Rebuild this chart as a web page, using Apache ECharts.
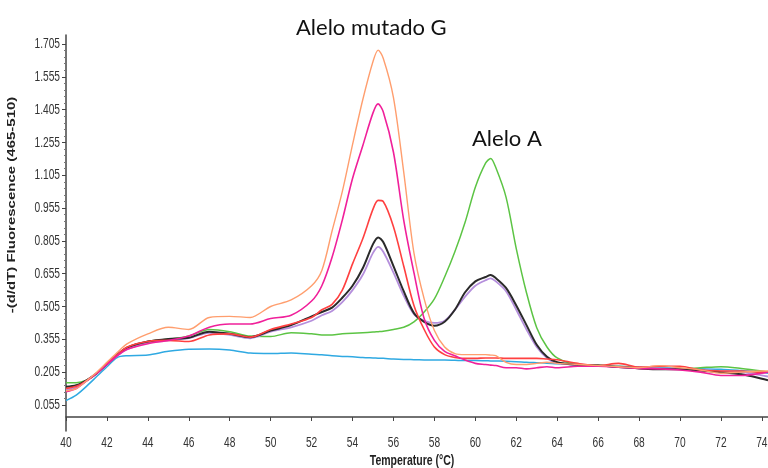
<!DOCTYPE html>
<html>
<head>
<meta charset="utf-8">
<script src="https://cdn.jsdelivr.net/npm/echarts@6/dist/echarts.min.js"></script>
<style>
html,body{margin:0;padding:0;background:#fff;}
#chart{width:768px;height:468px;}
</style>
</head>
<body>
<div id="chart"></div>
<script>
// Temperature (°C)
const temps = [40,40.5,41,41.5,42,42.5,43,44,45,46,47,48,49,50,51,52,52.5,53,53.5,54,54.5,55,55.25,55.5,56,56.5,57,57.5,58,58.5,59,59.5,60,60.5,60.75,61,61.5,62,62.5,63,63.5,64,65,66,67,68,69,70,71,72,73,74,74.3];

const orangeVals = [0.12,0.13,0.165,0.205,0.25,0.295,0.335,0.38,0.41,0.40,0.455,0.46,0.455,0.505,0.535,0.60,0.67,0.85,1.03,1.245,1.45,1.625,1.677,1.64,1.46,1.12,0.75,0.54,0.395,0.32,0.29,0.285,0.285,0.285,0.283,0.28,0.25,0.24,0.24,0.245,0.25,0.245,0.24,0.235,0.23,0.225,0.235,0.225,0.215,0.20,0.205,0.21,0.21];
const magentaVals = [0.115,0.13,0.165,0.20,0.24,0.28,0.31,0.335,0.35,0.37,0.41,0.425,0.425,0.45,0.465,0.53,0.60,0.73,0.90,1.09,1.24,1.39,1.431,1.395,1.21,0.90,0.66,0.45,0.35,0.30,0.28,0.26,0.245,0.24,0.237,0.235,0.225,0.225,0.22,0.225,0.23,0.225,0.232,0.232,0.228,0.222,0.22,0.215,0.205,0.19,0.19,0.20,0.205];
const redVals = [0.13,0.14,0.165,0.20,0.245,0.285,0.32,0.345,0.35,0.345,0.375,0.38,0.365,0.40,0.425,0.455,0.49,0.515,0.58,0.70,0.815,0.95,0.99,0.985,0.87,0.69,0.51,0.40,0.32,0.285,0.272,0.268,0.268,0.27,0.27,0.27,0.268,0.268,0.268,0.268,0.265,0.262,0.245,0.235,0.245,0.228,0.232,0.232,0.215,0.21,0.21,0.205,0.205];
const blackVals = [0.138,0.145,0.168,0.20,0.242,0.285,0.318,0.345,0.357,0.362,0.39,0.38,0.365,0.395,0.42,0.46,0.48,0.50,0.545,0.60,0.68,0.79,0.821,0.80,0.69,0.575,0.475,0.435,0.417,0.435,0.49,0.57,0.62,0.64,0.649,0.635,0.59,0.51,0.42,0.33,0.275,0.25,0.238,0.235,0.228,0.222,0.218,0.218,0.212,0.205,0.195,0.175,0.168];
const purpleVals = [0.125,0.135,0.165,0.198,0.24,0.28,0.31,0.34,0.35,0.36,0.385,0.375,0.36,0.39,0.41,0.44,0.465,0.485,0.525,0.58,0.65,0.75,0.778,0.755,0.66,0.555,0.47,0.44,0.43,0.44,0.49,0.55,0.60,0.625,0.634,0.62,0.575,0.49,0.40,0.32,0.27,0.245,0.24,0.235,0.23,0.225,0.222,0.22,0.215,0.21,0.205,0.19,0.185];
const greenVals = [0.157,0.157,0.168,0.20,0.24,0.28,0.318,0.345,0.355,0.37,0.40,0.39,0.37,0.368,0.385,0.38,0.375,0.375,0.38,0.383,0.385,0.388,0.39,0.392,0.40,0.41,0.435,0.48,0.54,0.64,0.755,0.89,1.05,1.16,1.182,1.14,1.005,0.77,0.568,0.408,0.32,0.27,0.24,0.238,0.232,0.225,0.222,0.22,0.225,0.23,0.222,0.21,0.205];
const cyanVals = [0.075,0.10,0.14,0.185,0.23,0.272,0.28,0.283,0.30,0.31,0.311,0.306,0.292,0.29,0.293,0.287,0.285,0.28,0.277,0.275,0.272,0.27,0.269,0.268,0.265,0.263,0.262,0.261,0.26,0.26,0.259,0.258,0.258,0.257,0.2565,0.256,0.255,0.253,0.25,0.248,0.246,0.243,0.24,0.235,0.232,0.228,0.225,0.222,0.22,0.218,0.212,0.205,0.2];

// Axis ticks
const xTickLabels = ['40','42','44','46','48','50','52','54','56','58','60','62','64','66','68','70','72','74'];
const yTickLabels = ['0.055','0.205','0.355','0.505','0.655','0.805','0.955','1.105','1.255','1.405','1.555','1.705'];
const xMin = 40, xMax = 74.3, xStep = 2;
const yMin = -0.064, yMax = 1.746, yTickStep = 0.15;

const xTitle = 'Temperature (°C)';
const yTitle = '-(d/dT) Fluorescence (465-510)';
const annotations = ['Alelo mutado G', 'Alelo A'];

const seriesDefs = [
  {name:'cyan', color:'#2fa9e2', vals:cyanVals, w:1.5},
  {name:'green', color:'#5cc444', vals:greenVals, w:1.5},
  {name:'purple', color:'#b58fdc', vals:purpleVals, w:1.8},
  {name:'black', color:'#2a2a2a', vals:blackVals, w:2},
  {name:'red', color:'#ff4040', vals:redVals, w:1.6},
  {name:'magenta', color:'#f0209a', vals:magentaVals, w:1.6},
  {name:'orange', color:'#ff9e6e', vals:orangeVals, w:1.4}
];

const axisFont = "15px 'Liberation Sans',Arial,sans-serif";
const yFirst = parseFloat(yTickLabels[0]), yLast = parseFloat(yTickLabels[yTickLabels.length-1]);

const chart = echarts.init(document.getElementById('chart'), null, {renderer:'canvas'});
chart.setOption({
  animation:false,
  backgroundColor:'#fff',
  grid:[
    {left:66, right:0, top:35, bottom:37},
    {left:66, right:0, top:44, bottom:63}
  ],
  xAxis:[
    {type:'value', gridIndex:0, min:xMin, max:xMax, interval:xStep,
     axisLine:{lineStyle:{color:'#444', width:1.5}},
     axisTick:{length:4, lineStyle:{color:'#444'}},
     splitLine:{show:false}, axisLabel:{show:false}},
    {type:'value', gridIndex:1, min:xMin, max:xMax, show:false}
  ],
  yAxis:[
    {type:'value', gridIndex:0, min:yMin, max:yMax,
     axisLine:{show:true, lineStyle:{color:'#444', width:1.5}},
     axisTick:{show:false}, axisLabel:{show:false}, splitLine:{show:false}},
    {type:'value', gridIndex:1, min:yFirst, max:yLast, interval:yTickStep,
     axisLine:{show:false},
     axisTick:{show:true, length:4, lineStyle:{color:'#444'}},
     minorTick:{show:true, splitNumber:5, length:2, lineStyle:{color:'#777'}},
     splitLine:{show:false}, axisLabel:{show:false}}
  ],
  series: seriesDefs.map(s => ({
    type:'line', name:s.name, xAxisIndex:0, yAxisIndex:0,
    data: temps.map((t,i) => [t, s.vals[i]]),
    smooth:0.3, showSymbol:false, symbol:'none',
    lineStyle:{color:s.color, width:s.w},
    itemStyle:{color:s.color}
  }))
});

// Condensed axis labels placed through the axis scales
const g = [];
const axisY = chart.convertToPixel({xAxisIndex:0, yAxisIndex:0}, [xMin, yMin]);
xTickLabels.forEach(lbl => {
  const p = chart.convertToPixel({xAxisIndex:0, yAxisIndex:0}, [parseFloat(lbl), yMin]);
  g.push({type:'text', x:p[0], y:axisY[1] + 12, scaleX:0.68,
    style:{text:lbl, fill:'#333', font:axisFont, textAlign:'center', textVerticalAlign:'middle'}});
});
yTickLabels.forEach(lbl => {
  const p = chart.convertToPixel({xAxisIndex:0, yAxisIndex:0}, [xMin, parseFloat(lbl)]);
  g.push({type:'text', x:axisY[0] - 6, y:p[1], scaleX:0.68,
    style:{text:lbl, fill:'#333', font:axisFont, textAlign:'right', textVerticalAlign:'middle'}});
});
g.push({type:'text', x:412, y:461, scaleX:0.7,
  style:{text:xTitle, fill:'#222', font:"bold 15px 'Liberation Sans',Arial,sans-serif", textAlign:'center', textVerticalAlign:'middle'}});
g.push({type:'text', x:12, y:205, rotation:Math.PI/2, scaleY:0.7,
  style:{text:yTitle, fill:'#222', font:"bold 15px 'Liberation Sans',Arial,sans-serif", textAlign:'center', textVerticalAlign:'middle'}});
g.push({type:'text', x:296, y:28,
  style:{text:annotations[0], fill:'#111', font:"22px Lato,'Open Sans',sans-serif", textAlign:'left', textVerticalAlign:'middle'}});
g.push({type:'text', x:472, y:139,
  style:{text:annotations[1], fill:'#111', font:"22px Lato,'Open Sans',sans-serif", textAlign:'left', textVerticalAlign:'middle'}});
chart.setOption({graphic:g});
</script>
</body>
</html>
